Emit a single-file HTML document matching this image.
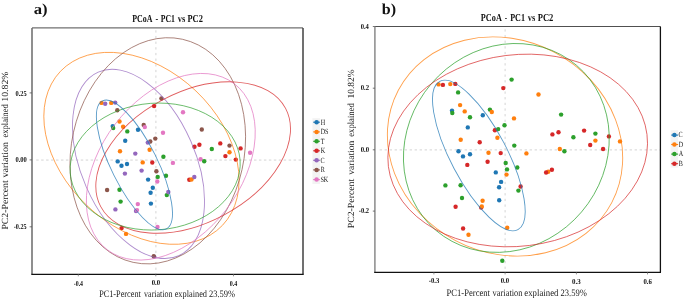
<!DOCTYPE html>
<html><head><meta charset="utf-8"><style>
html,body{margin:0;padding:0;background:#fff;width:685px;height:302px;overflow:hidden}
svg{display:block;will-change:transform}
.dash{stroke:#d4d4d4;stroke-width:1}
text{font-family:"Liberation Serif",serif;text-rendering:geometricPrecision}
</style></head><body>
<svg width="685" height="302" viewBox="0 0 685 302">
<rect width="685" height="302" fill="#fff"/>
<line x1="36.2" y1="160.05" x2="303" y2="160.05" class="dash" stroke-dasharray="2.5 2.45"/>
<line x1="155.9" y1="30.3" x2="155.9" y2="274.3" class="dash" stroke-dasharray="2.3 3.35"/>
<line x1="379.6" y1="149.9" x2="660.4" y2="149.9" class="dash" stroke-dasharray="2.4 2.6"/>
<line x1="505.1" y1="29.3" x2="505.1" y2="272.4" class="dash" stroke-dasharray="2.3 3.35"/>
<circle cx="101.6" cy="102.9" r="2.2" fill="#ff7f0e"/>
<circle cx="105.2" cy="103.7" r="2.2" fill="#9467bd"/>
<circle cx="111.2" cy="102.9" r="2.2" fill="#ff7f0e"/>
<circle cx="115.2" cy="102.6" r="2.2" fill="#9467bd"/>
<circle cx="117.3" cy="110.2" r="2.2" fill="#8c564b"/>
<circle cx="119.5" cy="121.5" r="2.2" fill="#ff7f0e"/>
<circle cx="112.7" cy="126.1" r="2.2" fill="#1f77b4"/>
<circle cx="113.2" cy="128.1" r="2.2" fill="#2ca02c"/>
<circle cx="123.1" cy="126.8" r="2.2" fill="#ff7f0e"/>
<circle cx="127.3" cy="131.4" r="2.2" fill="#2ca02c"/>
<circle cx="138" cy="129.7" r="2.2" fill="#1f77b4"/>
<circle cx="143.7" cy="124.9" r="2.2" fill="#8c564b"/>
<circle cx="144.8" cy="127.1" r="2.2" fill="#e377c2"/>
<circle cx="163" cy="132.7" r="2.2" fill="#e377c2"/>
<circle cx="125.2" cy="140.7" r="2.2" fill="#1f77b4"/>
<circle cx="155.3" cy="138.6" r="2.2" fill="#8c564b"/>
<circle cx="150.3" cy="141.5" r="2.2" fill="#8c564b"/>
<circle cx="147.8" cy="142.6" r="2.2" fill="#9467bd"/>
<circle cx="149.6" cy="149.8" r="2.2" fill="#ff7f0e"/>
<circle cx="120" cy="151.2" r="2.2" fill="#ff7f0e"/>
<circle cx="135.3" cy="153.6" r="2.2" fill="#9467bd"/>
<circle cx="163.4" cy="156.7" r="2.2" fill="#2ca02c"/>
<circle cx="154.1" cy="106.1" r="2.2" fill="#d62728"/>
<circle cx="161.4" cy="98.5" r="2.2" fill="#8c564b"/>
<circle cx="183" cy="112.3" r="2.2" fill="#e377c2"/>
<circle cx="201.8" cy="129.5" r="2.2" fill="#8c564b"/>
<circle cx="194.5" cy="146.8" r="2.2" fill="#d62728"/>
<circle cx="199.4" cy="144.8" r="2.2" fill="#d62728"/>
<circle cx="211.8" cy="149" r="2.2" fill="#2ca02c"/>
<circle cx="200.6" cy="159.2" r="2.2" fill="#e377c2"/>
<circle cx="204.2" cy="161.3" r="2.2" fill="#2ca02c"/>
<circle cx="220.3" cy="143.4" r="2.2" fill="#d62728"/>
<circle cx="229.5" cy="145.6" r="2.2" fill="#8c564b"/>
<circle cx="229.5" cy="152.2" r="2.2" fill="#ff7f0e"/>
<circle cx="240.6" cy="148.4" r="2.2" fill="#d62728"/>
<circle cx="225.4" cy="156.1" r="2.2" fill="#d62728"/>
<circle cx="235.8" cy="159.6" r="2.2" fill="#d62728"/>
<circle cx="250.1" cy="152.7" r="2.2" fill="#e377c2"/>
<circle cx="117.7" cy="161.4" r="2.2" fill="#1f77b4"/>
<circle cx="121.5" cy="165.8" r="2.2" fill="#1f77b4"/>
<circle cx="127" cy="164" r="2.2" fill="#1f77b4"/>
<circle cx="124.9" cy="173.6" r="2.2" fill="#9467bd"/>
<circle cx="142.7" cy="162.4" r="2.2" fill="#ff7f0e"/>
<circle cx="152.3" cy="162.5" r="2.2" fill="#d62728"/>
<circle cx="141.6" cy="170.6" r="2.2" fill="#9467bd"/>
<circle cx="156.4" cy="171.2" r="2.2" fill="#8c564b"/>
<circle cx="157.7" cy="176.9" r="2.2" fill="#2ca02c"/>
<circle cx="166" cy="175.7" r="2.2" fill="#2ca02c"/>
<circle cx="148.1" cy="179.6" r="2.2" fill="#1f77b4"/>
<circle cx="157.3" cy="181.5" r="2.2" fill="#e377c2"/>
<circle cx="152.8" cy="187.8" r="2.2" fill="#1f77b4"/>
<circle cx="150.6" cy="192.7" r="2.2" fill="#1f77b4"/>
<circle cx="166.8" cy="195.1" r="2.2" fill="#2ca02c"/>
<circle cx="168.3" cy="192" r="2.2" fill="#9467bd"/>
<circle cx="119.5" cy="189.8" r="2.2" fill="#2ca02c"/>
<circle cx="120.6" cy="201.6" r="2.2" fill="#2ca02c"/>
<circle cx="137.8" cy="204.1" r="2.2" fill="#e377c2"/>
<circle cx="150.9" cy="203.6" r="2.2" fill="#1f77b4"/>
<circle cx="107.1" cy="190" r="2.2" fill="#8c564b"/>
<circle cx="115.4" cy="209.4" r="2.2" fill="#9467bd"/>
<circle cx="136.0" cy="211.0" r="2.2" fill="#9467bd"/>
<circle cx="137.0" cy="210.1" r="2.2" fill="#e377c2"/>
<circle cx="172.9" cy="162.9" r="2.2" fill="#e377c2"/>
<circle cx="189.3" cy="179.8" r="2.2" fill="#d62728"/>
<circle cx="191.5" cy="179.5" r="2.2" fill="#ff7f0e"/>
<circle cx="194.3" cy="177" r="2.2" fill="#9467bd"/>
<circle cx="121.6" cy="228.1" r="2.2" fill="#d62728"/>
<circle cx="126" cy="233.9" r="2.2" fill="#ff7f0e"/>
<circle cx="157.5" cy="227" r="2.2" fill="#e377c2"/>
<circle cx="154.2" cy="256.6" r="2.2" fill="#9467bd"/>
<circle cx="153.7" cy="256.3" r="2.2" fill="#8c564b"/>
<circle cx="438.6" cy="84.4" r="2.2" fill="#ff7f0e"/>
<circle cx="442.9" cy="84.9" r="2.2" fill="#d62728"/>
<circle cx="450.3" cy="84.1" r="2.2" fill="#ff7f0e"/>
<circle cx="455.3" cy="83.9" r="2.2" fill="#d62728"/>
<circle cx="458.1" cy="92.4" r="2.2" fill="#2ca02c"/>
<circle cx="460.1" cy="105.1" r="2.2" fill="#ff7f0e"/>
<circle cx="452" cy="110.6" r="2.2" fill="#1f77b4"/>
<circle cx="452.3" cy="113" r="2.2" fill="#2ca02c"/>
<circle cx="464.7" cy="111.4" r="2.2" fill="#ff7f0e"/>
<circle cx="470" cy="117.2" r="2.2" fill="#2ca02c"/>
<circle cx="482.8" cy="115.2" r="2.2" fill="#1f77b4"/>
<circle cx="511.6" cy="79.6" r="2.2" fill="#2ca02c"/>
<circle cx="503.3" cy="88.1" r="2.2" fill="#d62728"/>
<circle cx="489.9" cy="109.6" r="2.2" fill="#2ca02c"/>
<circle cx="491.8" cy="112" r="2.2" fill="#ff7f0e"/>
<circle cx="514" cy="118.4" r="2.2" fill="#ff7f0e"/>
<circle cx="538.5" cy="94.5" r="2.2" fill="#ff7f0e"/>
<circle cx="561.1" cy="114.6" r="2.2" fill="#2ca02c"/>
<circle cx="467.8" cy="127.4" r="2.2" fill="#1f77b4"/>
<circle cx="460.7" cy="139.8" r="2.2" fill="#ff7f0e"/>
<circle cx="479.7" cy="142.3" r="2.2" fill="#d62728"/>
<circle cx="458.5" cy="151.3" r="2.2" fill="#1f77b4"/>
<circle cx="463" cy="156.4" r="2.2" fill="#1f77b4"/>
<circle cx="470" cy="154.3" r="2.2" fill="#1f77b4"/>
<circle cx="488.5" cy="152.7" r="2.2" fill="#ff7f0e"/>
<circle cx="487.6" cy="161.8" r="2.2" fill="#d62728"/>
<circle cx="467.3" cy="164.9" r="2.2" fill="#d62728"/>
<circle cx="445.4" cy="185.4" r="2.2" fill="#2ca02c"/>
<circle cx="460.6" cy="185.2" r="2.2" fill="#2ca02c"/>
<circle cx="462" cy="198" r="2.2" fill="#2ca02c"/>
<circle cx="455.6" cy="206.8" r="2.2" fill="#d62728"/>
<circle cx="482.6" cy="200.8" r="2.2" fill="#ff7f0e"/>
<circle cx="481.2" cy="207.6" r="2.2" fill="#d62728"/>
<circle cx="481.8" cy="206.4" r="2.2" fill="#ff7f0e"/>
<circle cx="463.1" cy="228.5" r="2.2" fill="#d62728"/>
<circle cx="468.5" cy="234.7" r="2.2" fill="#ff7f0e"/>
<circle cx="504.5" cy="125.3" r="2.2" fill="#2ca02c"/>
<circle cx="494.9" cy="130.2" r="2.2" fill="#d62728"/>
<circle cx="498.2" cy="129.1" r="2.2" fill="#2ca02c"/>
<circle cx="497.4" cy="137.8" r="2.2" fill="#ff7f0e"/>
<circle cx="514.3" cy="145.6" r="2.2" fill="#2ca02c"/>
<circle cx="500.7" cy="153.1" r="2.2" fill="#d62728"/>
<circle cx="526.4" cy="153.4" r="2.2" fill="#ff7f0e"/>
<circle cx="505.7" cy="163" r="2.2" fill="#2ca02c"/>
<circle cx="507" cy="169.4" r="2.2" fill="#2ca02c"/>
<circle cx="517.3" cy="167.5" r="2.2" fill="#2ca02c"/>
<circle cx="495.8" cy="172.4" r="2.2" fill="#1f77b4"/>
<circle cx="506.5" cy="174.6" r="2.2" fill="#ff7f0e"/>
<circle cx="501.1" cy="181.9" r="2.2" fill="#1f77b4"/>
<circle cx="499.1" cy="187.3" r="2.2" fill="#1f77b4"/>
<circle cx="520.6" cy="186.5" r="2.2" fill="#d62728"/>
<circle cx="518.4" cy="190.6" r="2.2" fill="#2ca02c"/>
<circle cx="499.2" cy="200.3" r="2.2" fill="#1f77b4"/>
<circle cx="507.2" cy="227.8" r="2.2" fill="#ff7f0e"/>
<circle cx="502.3" cy="260.8" r="2.2" fill="#2ca02c"/>
<circle cx="552.4" cy="134.4" r="2.2" fill="#d62728"/>
<circle cx="558.5" cy="132.3" r="2.2" fill="#d62728"/>
<circle cx="573.4" cy="137.3" r="2.2" fill="#2ca02c"/>
<circle cx="559.8" cy="149" r="2.2" fill="#ff7f0e"/>
<circle cx="564.4" cy="151.3" r="2.2" fill="#2ca02c"/>
<circle cx="584.1" cy="130.6" r="2.2" fill="#d62728"/>
<circle cx="595.4" cy="133.6" r="2.2" fill="#2ca02c"/>
<circle cx="608.9" cy="136.4" r="2.2" fill="#d62728"/>
<circle cx="595.4" cy="140.6" r="2.2" fill="#ff7f0e"/>
<circle cx="590.2" cy="145" r="2.2" fill="#d62728"/>
<circle cx="603.1" cy="149" r="2.2" fill="#d62728"/>
<circle cx="620" cy="141.4" r="2.2" fill="#ff7f0e"/>
<circle cx="548.2" cy="171.8" r="2.2" fill="#ff7f0e"/>
<circle cx="546.1" cy="172.5" r="2.2" fill="#d62728"/>
<circle cx="551.9" cy="169.8" r="2.2" fill="#d62728"/>
<g fill="none" stroke-width="0.9" stroke-opacity="0.75">
<ellipse cx="141.46" cy="148.33" rx="111.77" ry="79.10" transform="rotate(-136.45 141.46 148.33)" stroke="#ff7f0e" />
<ellipse cx="138.49" cy="163.93" rx="57.06" ry="100.25" transform="rotate(156.31 138.49 163.93)" stroke="#9467bd" />
<ellipse cx="157.78" cy="150.80" rx="86.32" ry="114.24" transform="rotate(-167.57 157.78 150.80)" stroke="#8c564b" />
<ellipse cx="170.80" cy="166.76" rx="70.10" ry="104.54" transform="rotate(-142.60 170.80 166.76)" stroke="#e377c2" />
<ellipse cx="193.16" cy="157.51" rx="65.18" ry="104.66" transform="rotate(62.01 193.16 157.51)" stroke="#d62728" />
<ellipse cx="155.16" cy="166.55" rx="63.35" ry="85.17" transform="rotate(85.65 155.16 166.55)" stroke="#2ca02c" />
<ellipse cx="134.43" cy="164.90" rx="23.00" ry="71.58" transform="rotate(153.50 134.43 164.90)" stroke="#1f77b4" />
<ellipse cx="505.03" cy="146.47" rx="106.36" ry="120.61" transform="rotate(117.76 505.03 146.47)" stroke="#ff7f0e" />
<ellipse cx="506.34" cy="147.94" rx="98.76" ry="108.40" transform="rotate(-139.58 506.34 147.94)" stroke="#2ca02c" />
<ellipse cx="517.69" cy="150.48" rx="95.71" ry="130.29" transform="rotate(82.90 517.69 150.48)" stroke="#d62728" />
<ellipse cx="478.85" cy="155.47" rx="83.80" ry="28.04" transform="rotate(-117.80 478.85 155.47)" stroke="#1f77b4" />
</g>
<line x1="32" y1="27.9" x2="303" y2="27.9" stroke="#707070" stroke-width="1.4"/>
<line x1="32" y1="27.9" x2="32" y2="274.3" stroke="#6a6a6a" stroke-width="1.5"/>
<line x1="303" y1="27.9" x2="303" y2="274.3" stroke="#404040" stroke-width="1.5"/>
<line x1="31.3" y1="274.3" x2="303.7" y2="274.3" stroke="#111" stroke-width="1.3"/>
<line x1="374.9" y1="26.5" x2="660.4" y2="26.5" stroke="#505050" stroke-width="1.2"/>
<line x1="374.9" y1="26.5" x2="374.9" y2="272.4" stroke="#8a8a8a" stroke-width="1.5"/>
<line x1="660.4" y1="26.5" x2="660.4" y2="272.4" stroke="#111" stroke-width="1.3"/>
<line x1="374.2" y1="272.4" x2="661.0" y2="272.4" stroke="#111" stroke-width="1.2"/>
<line x1="29.6" y1="92.9" x2="32" y2="92.9" stroke="#555" stroke-width="0.8"/>
<line x1="29.6" y1="159.9" x2="32" y2="159.9" stroke="#555" stroke-width="0.8"/>
<line x1="29.6" y1="226.8" x2="32" y2="226.8" stroke="#555" stroke-width="0.8"/>
<line x1="78.3" y1="274.3" x2="78.3" y2="276.3" stroke="#777" stroke-width="0.8"/>
<line x1="155.8" y1="274.3" x2="155.8" y2="276.3" stroke="#777" stroke-width="0.8"/>
<line x1="233.5" y1="274.3" x2="233.5" y2="276.3" stroke="#777" stroke-width="0.8"/>
<line x1="372.8" y1="26.5" x2="374.9" y2="26.5" stroke="#555" stroke-width="0.8"/>
<line x1="372.8" y1="88.2" x2="374.9" y2="88.2" stroke="#555" stroke-width="0.8"/>
<line x1="372.8" y1="149.8" x2="374.9" y2="149.8" stroke="#555" stroke-width="0.8"/>
<line x1="372.8" y1="211.1" x2="374.9" y2="211.1" stroke="#555" stroke-width="0.8"/>
<line x1="433.9" y1="272.4" x2="433.9" y2="274.4" stroke="#777" stroke-width="0.8"/>
<line x1="505.1" y1="272.4" x2="505.1" y2="274.4" stroke="#777" stroke-width="0.8"/>
<line x1="576.4" y1="272.4" x2="576.4" y2="274.4" stroke="#777" stroke-width="0.8"/>
<line x1="647.5" y1="272.4" x2="647.5" y2="274.4" stroke="#777" stroke-width="0.8"/>
<g font-family="Liberation Serif, serif">
<text x="33.77" y="13.7" font-size="15.2" font-weight="bold" fill="#111" textLength="13.85" lengthAdjust="spacingAndGlyphs">a)</text>
<text x="381.71" y="13.7" font-size="15.2" font-weight="bold" fill="#111" textLength="14.29" lengthAdjust="spacingAndGlyphs">b)</text>
<text x="132.27" y="22.3" font-size="10.6" font-weight="bold" fill="#111" textLength="20.27" lengthAdjust="spacingAndGlyphs">PCoA</text>
<text x="155.51" y="22.3" font-size="10.6" font-weight="bold" fill="#111" textLength="2.67" lengthAdjust="spacingAndGlyphs">-</text>
<text x="160.68" y="22.3" font-size="10.6" font-weight="bold" fill="#111" textLength="14.20" lengthAdjust="spacingAndGlyphs">PC1</text>
<text x="177.70" y="22.3" font-size="10.6" font-weight="bold" fill="#111" textLength="7.50" lengthAdjust="spacingAndGlyphs">vs</text>
<text x="187.47" y="22.3" font-size="10.6" font-weight="bold" fill="#111" textLength="15.38" lengthAdjust="spacingAndGlyphs">PC2</text>
<text x="480.87" y="21.1" font-size="10.6" font-weight="bold" fill="#111" textLength="20.97" lengthAdjust="spacingAndGlyphs">PCoA</text>
<text x="505.09" y="21.1" font-size="10.6" font-weight="bold" fill="#111" textLength="1.91" lengthAdjust="spacingAndGlyphs">-</text>
<text x="510.17" y="21.1" font-size="10.6" font-weight="bold" fill="#111" textLength="14.83" lengthAdjust="spacingAndGlyphs">PC1</text>
<text x="527.80" y="21.1" font-size="10.6" font-weight="bold" fill="#111" textLength="7.50" lengthAdjust="spacingAndGlyphs">vs</text>
<text x="537.66" y="21.1" font-size="10.6" font-weight="bold" fill="#111" textLength="15.69" lengthAdjust="spacingAndGlyphs">PC2</text>
<text x="15.46" y="95.7" font-size="7.7" font-weight="bold" fill="#111" textLength="11.17" lengthAdjust="spacingAndGlyphs">0.25</text>
<text x="15.45" y="162" font-size="7.7" font-weight="bold" fill="#111" textLength="11.39" lengthAdjust="spacingAndGlyphs">0.00</text>
<text x="13.78" y="228.7" font-size="7.7" font-weight="bold" fill="#111" textLength="12.84" lengthAdjust="spacingAndGlyphs">-0.25</text>
<text x="73.79" y="285.6" font-size="7.7" font-weight="bold" fill="#111" textLength="9.21" lengthAdjust="spacingAndGlyphs">-0.4</text>
<text x="151.64" y="285.4" font-size="7.7" font-weight="bold" fill="#111" textLength="8.41" lengthAdjust="spacingAndGlyphs">0.0</text>
<text x="229.87" y="285.5" font-size="7.7" font-weight="bold" fill="#111" textLength="7.43" lengthAdjust="spacingAndGlyphs">0.4</text>
<text x="360.65" y="28.8" font-size="7.7" font-weight="bold" fill="#111" textLength="8.17" lengthAdjust="spacingAndGlyphs">0.4</text>
<text x="360.64" y="89.8" font-size="7.7" font-weight="bold" fill="#111" textLength="8.44" lengthAdjust="spacingAndGlyphs">0.2</text>
<text x="360.64" y="152" font-size="7.7" font-weight="bold" fill="#111" textLength="8.41" lengthAdjust="spacingAndGlyphs">0.0</text>
<text x="358.77" y="213.4" font-size="7.7" font-weight="bold" fill="#111" textLength="10.30" lengthAdjust="spacingAndGlyphs">-0.2</text>
<text x="428.76" y="283.4" font-size="7.7" font-weight="bold" fill="#111" textLength="10.56" lengthAdjust="spacingAndGlyphs">-0.3</text>
<text x="500.64" y="283.4" font-size="7.7" font-weight="bold" fill="#111" textLength="8.41" lengthAdjust="spacingAndGlyphs">0.0</text>
<text x="571.94" y="283.5" font-size="7.7" font-weight="bold" fill="#111" textLength="8.70" lengthAdjust="spacingAndGlyphs">0.3</text>
<text x="643.45" y="283.5" font-size="7.7" font-weight="bold" fill="#111" textLength="8.34" lengthAdjust="spacingAndGlyphs">0.6</text>
<text x="99.17" y="296.7" font-size="9.85" font-weight="normal" fill="#1a1a1a" textLength="41.69" lengthAdjust="spacingAndGlyphs">PC1-Percent</text>
<text x="144.10" y="296.7" font-size="9.85" font-weight="normal" fill="#1a1a1a" textLength="28.41" lengthAdjust="spacingAndGlyphs">variation</text>
<text x="174.68" y="296.7" font-size="9.85" font-weight="normal" fill="#1a1a1a" textLength="32.31" lengthAdjust="spacingAndGlyphs">explained</text>
<text x="208.94" y="296.7" font-size="9.85" font-weight="normal" fill="#1a1a1a" textLength="26.24" lengthAdjust="spacingAndGlyphs">23.59%</text>
<text x="446.56" y="295.6" font-size="9.85" font-weight="normal" fill="#1a1a1a" textLength="43.40" lengthAdjust="spacingAndGlyphs">PC1-Percent</text>
<text x="492.60" y="295.6" font-size="9.85" font-weight="normal" fill="#1a1a1a" textLength="29.92" lengthAdjust="spacingAndGlyphs">variation</text>
<text x="524.37" y="295.6" font-size="9.85" font-weight="normal" fill="#1a1a1a" textLength="34.03" lengthAdjust="spacingAndGlyphs">explained</text>
<text x="560.44" y="295.6" font-size="9.85" font-weight="normal" fill="#1a1a1a" textLength="26.44" lengthAdjust="spacingAndGlyphs">23.59%</text>
<text transform="rotate(-90)" x="-229.57" y="8.2" font-size="9.4" font-weight="normal" fill="#1a1a1a" textLength="49.24" lengthAdjust="spacingAndGlyphs">PC2-Percent</text>
<text transform="rotate(-90)" x="-177.50" y="8.2" font-size="9.4" font-weight="normal" fill="#1a1a1a" textLength="35.64" lengthAdjust="spacingAndGlyphs">variation</text>
<text transform="rotate(-90)" x="-137.52" y="8.2" font-size="9.4" font-weight="normal" fill="#1a1a1a" textLength="33.22" lengthAdjust="spacingAndGlyphs">explained</text>
<text transform="rotate(-90)" x="-101.74" y="8.2" font-size="9.4" font-weight="normal" fill="#1a1a1a" textLength="30.27" lengthAdjust="spacingAndGlyphs">10.82%</text>
<text transform="rotate(-90)" x="-228.27" y="354.4" font-size="9.4" font-weight="normal" fill="#1a1a1a" textLength="49.44" lengthAdjust="spacingAndGlyphs">PC2-Percent</text>
<text transform="rotate(-90)" x="-174.80" y="354.4" font-size="9.4" font-weight="normal" fill="#1a1a1a" textLength="34.14" lengthAdjust="spacingAndGlyphs">variation</text>
<text transform="rotate(-90)" x="-136.73" y="354.4" font-size="9.4" font-weight="normal" fill="#1a1a1a" textLength="33.52" lengthAdjust="spacingAndGlyphs">explained</text>
<text transform="rotate(-90)" x="-98.52" y="354.4" font-size="9.4" font-weight="normal" fill="#1a1a1a" textLength="29.23" lengthAdjust="spacingAndGlyphs">10.82%</text>
</g>
<g font-family="Liberation Serif, serif">
<rect x="312.4" y="118.2" width="7.600000000000023" height="65.8" fill="#f3f3f3"/>
<line x1="313.2" y1="122.2" x2="319.9" y2="122.2" stroke="#1f77b4" stroke-width="1.1"/>
<circle cx="316.6" cy="122.2" r="2.25" fill="#1f77b4"/>
<text x="320.63" y="124.50" font-size="7.9" fill="#151515" textLength="4.45" lengthAdjust="spacingAndGlyphs">H</text>
<line x1="313.2" y1="131.9" x2="319.9" y2="131.9" stroke="#ff7f0e" stroke-width="1.1"/>
<circle cx="316.6" cy="131.9" r="2.25" fill="#ff7f0e"/>
<text x="320.63" y="134.20" font-size="7.9" fill="#151515" textLength="7.88" lengthAdjust="spacingAndGlyphs">DS</text>
<line x1="313.2" y1="141.3" x2="319.9" y2="141.3" stroke="#2ca02c" stroke-width="1.1"/>
<circle cx="316.6" cy="141.3" r="2.25" fill="#2ca02c"/>
<text x="320.69" y="143.60" font-size="7.9" fill="#151515" textLength="3.76" lengthAdjust="spacingAndGlyphs">T</text>
<line x1="313.2" y1="150.8" x2="319.9" y2="150.8" stroke="#d62728" stroke-width="1.1"/>
<circle cx="316.6" cy="150.8" r="2.25" fill="#d62728"/>
<text x="320.63" y="153.10" font-size="7.9" fill="#151515" textLength="4.45" lengthAdjust="spacingAndGlyphs">K</text>
<line x1="313.2" y1="160.3" x2="319.9" y2="160.3" stroke="#9467bd" stroke-width="1.1"/>
<circle cx="316.6" cy="160.3" r="2.25" fill="#9467bd"/>
<text x="320.55" y="162.60" font-size="7.9" fill="#151515" textLength="4.11" lengthAdjust="spacingAndGlyphs">C</text>
<line x1="313.2" y1="169.9" x2="319.9" y2="169.9" stroke="#8c564b" stroke-width="1.1"/>
<circle cx="316.6" cy="169.9" r="2.25" fill="#8c564b"/>
<text x="320.63" y="172.20" font-size="7.9" fill="#151515" textLength="4.11" lengthAdjust="spacingAndGlyphs">R</text>
<line x1="313.2" y1="179.6" x2="319.9" y2="179.6" stroke="#e377c2" stroke-width="1.1"/>
<circle cx="316.6" cy="179.6" r="2.25" fill="#e377c2"/>
<text x="320.39" y="181.90" font-size="7.9" fill="#151515" textLength="7.88" lengthAdjust="spacingAndGlyphs">SK</text>
<rect x="670.6" y="130.2" width="7.600000000000023" height="37.400000000000006" fill="#f3f3f3"/>
<line x1="671.2" y1="135.1" x2="678.1" y2="135.1" stroke="#1f77b4" stroke-width="1.1"/>
<circle cx="674.4" cy="135.1" r="2.25" fill="#1f77b4"/>
<text x="678.55" y="137.40" font-size="7.9" fill="#151515" textLength="4.11" lengthAdjust="spacingAndGlyphs">C</text>
<line x1="671.2" y1="144.5" x2="678.1" y2="144.5" stroke="#ff7f0e" stroke-width="1.1"/>
<circle cx="674.4" cy="144.5" r="2.25" fill="#ff7f0e"/>
<text x="678.63" y="146.80" font-size="7.9" fill="#151515" textLength="4.45" lengthAdjust="spacingAndGlyphs">D</text>
<line x1="671.2" y1="154.1" x2="678.1" y2="154.1" stroke="#2ca02c" stroke-width="1.1"/>
<circle cx="674.4" cy="154.1" r="2.25" fill="#2ca02c"/>
<text x="678.75" y="156.40" font-size="7.9" fill="#151515" textLength="4.45" lengthAdjust="spacingAndGlyphs">A</text>
<line x1="671.2" y1="163.7" x2="678.1" y2="163.7" stroke="#d62728" stroke-width="1.1"/>
<circle cx="674.4" cy="163.7" r="2.25" fill="#d62728"/>
<text x="678.63" y="166.00" font-size="7.9" fill="#151515" textLength="4.11" lengthAdjust="spacingAndGlyphs">B</text>
</g>
</svg>
</body></html>
